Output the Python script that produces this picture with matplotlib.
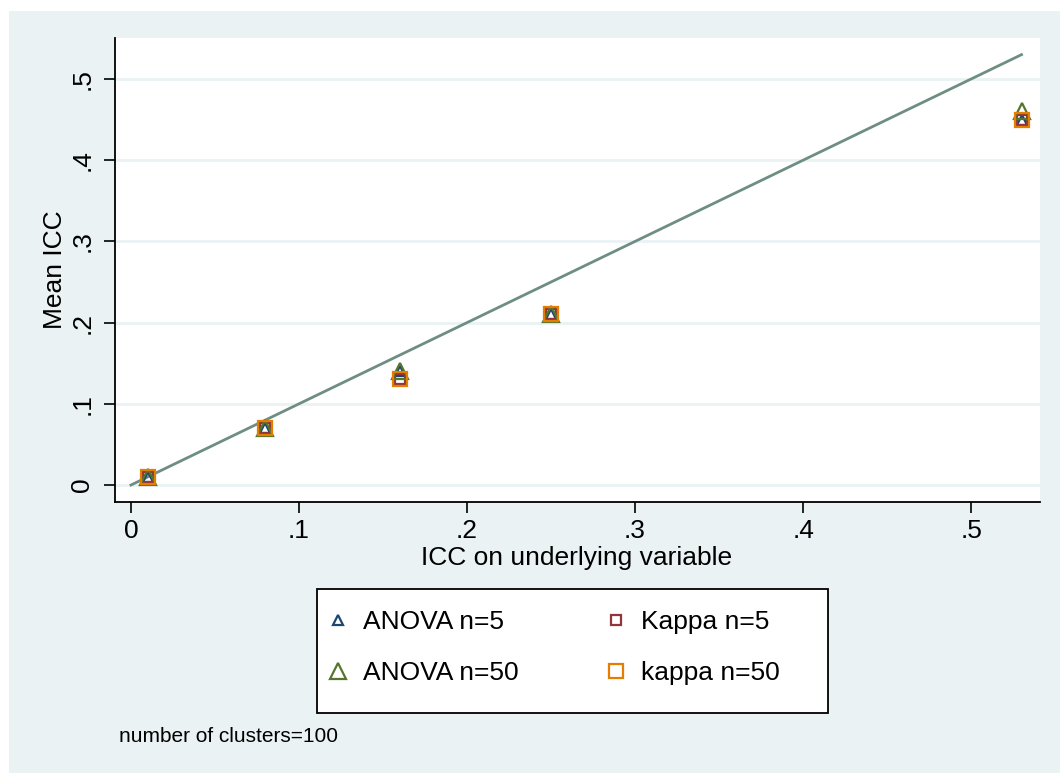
import numpy as np
import matplotlib
matplotlib.use("Agg")
import matplotlib.pyplot as plt
from matplotlib.patches import Rectangle

plt.rcParams['font.family'] = ['Liberation Sans', 'DejaVu Sans']

# data
icc_true = [0.01, 0.08, 0.16, 0.25, 0.53]
anova_n5 = [0.01, 0.07, 0.14, 0.21, 0.45]
kappa_n5 = [0.01, 0.07, 0.13, 0.21, 0.45]
anova_n50 = [0.01, 0.07, 0.14, 0.21, 0.46]
kappa_n50 = [0.01, 0.07, 0.13, 0.21, 0.45]
ref_line = [0, 0.53]
ticks = [0, 0.1, 0.2, 0.3, 0.4, 0.5]
tick_labels = ["0", ".1", ".2", ".3", ".4", ".5"]

navy = "#1a476f"
maroon = "#90353b"
green = "#55752f"
orange = "#e37e00"
teal = "#6e8e84"
bg = "#eaf2f3"

W, H = 1060, 773
fig = plt.figure(figsize=(W / 100, H / 100), dpi=100)
fig.patch.set_facecolor("white")
# outer graph region
fig.patches.append(Rectangle((9 / W, 0), 1 - 9 / W, 1 - 11 / H, transform=fig.transFigure,
                             facecolor=bg, edgecolor="none", zorder=-10))

ax = fig.add_axes([115 / W, 1 - 502 / H, (1040 - 115) / W, (502 - 38) / H])
ax.set_facecolor("white")

ax.plot(ref_line, ref_line, color=teal, lw=2, zorder=2)
ax.plot(icc_true, anova_n5, ls="none", marker="^", ms=6.5, mfc="none", mec=navy, mew=1.6,
        zorder=3, label="ANOVA n=5")
ax.plot(icc_true, kappa_n5, ls="none", marker="s", ms=6.5, mfc="none", mec=maroon, mew=1.6,
        zorder=3, label="Kappa n=5")
ax.plot(icc_true, anova_n50, ls="none", marker="^", ms=11.5, mfc="none", mec=green, mew=1.6,
        zorder=3, label="ANOVA n=50")
ax.plot(icc_true, kappa_n50, ls="none", marker="s", ms=10.5, mfc="none", mec=orange, mew=1.6,
        zorder=3, label="kappa n=50")

ax.set_xlim(-0.0095, 0.541)
ax.set_ylim(-0.0209, 0.5505)
ax.set_xticks(ticks)
ax.set_xticklabels(tick_labels)
ax.set_yticks(ticks)
ax.set_yticklabels(tick_labels, rotation=90, va="center")
ax.tick_params(axis="both", labelsize=19, length=8, width=1.2, color="black", direction="out")
ax.tick_params(axis="x", pad=4)
ax.tick_params(axis="y", pad=7)
for t in ticks:
    ax.axhline(t, color=bg, lw=2, zorder=1)
for s in ["top", "right"]:
    ax.spines[s].set_visible(False)
for s in ["left", "bottom"]:
    ax.spines[s].set_linewidth(1.3)

fig.text(577 / W, 1 - 558 / H, "ICC on underlying variable", fontsize=19, ha="center", va="center")
fig.text(55 / W, 1 - 270 / H, "Mean ICC", fontsize=19, rotation=90, ha="center", va="center")
fig.text(119 / W, 1 - 737 / H, "number of clusters=100", fontsize=15, ha="left", va="center")

# legend box (stata style: white box with empty space at bottom)
fig.patches.append(Rectangle((317 / W, 1 - 713 / H), 511 / W, 124 / H, transform=fig.transFigure,
                             facecolor="white", edgecolor="black", lw=1.3, zorder=1))
h, l = ax.get_legend_handles_labels()
handles = [h[0], h[2], h[1], h[3]]
labels = [l[0], l[2], l[1], l[3]]
leg = fig.legend(handles, labels, ncol=2, loc="upper left",
                 bbox_to_anchor=(325 / W, 1 - 690 / H, (780 - 325) / W, 80 / H),
                 bbox_transform=fig.transFigure, mode="expand", borderaxespad=0,
                 fontsize=19, frameon=False, handlelength=1.0,
                 handletextpad=0.45, labelspacing=1.04, borderpad=0)
leg.set_zorder(5)

fig.savefig("out.png", dpi=100, facecolor=fig.get_facecolor())
